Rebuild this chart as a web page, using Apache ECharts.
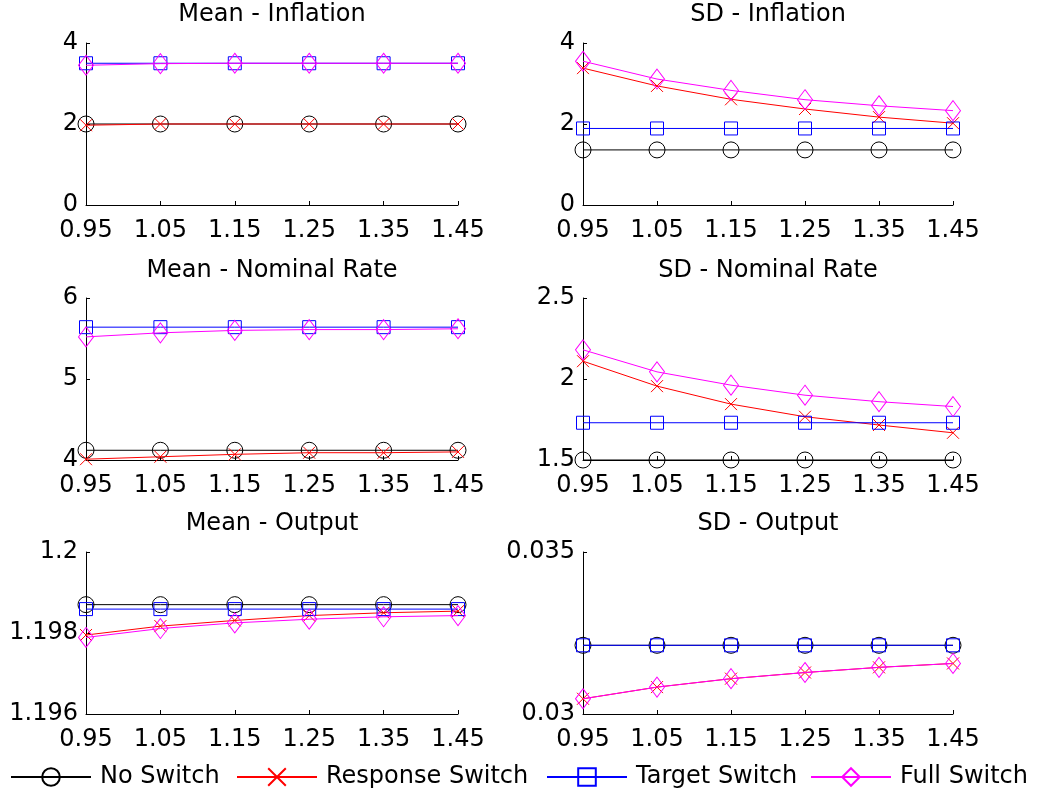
<!DOCTYPE html>
<html>
<head>
<meta charset="utf-8">
<script src="https://cdn.jsdelivr.net/npm/echarts@6/dist/echarts.min.js"></script>
<style>
  html, body { margin: 0; padding: 0; background: #fff; }
  #chart { width: 1046px; height: 797px; }
</style>
</head>
<body>
<div id="chart"></div>
<script>
// x categories (policy response parameter)
const xLabels = ['0.95', '1.05', '1.15', '1.25', '1.35', '1.45']
const seriesNames = ['No Switch', 'Response Switch', 'Target Switch', 'Full Switch']

// Mean - Inflation
const meanInflNo = [2, 2, 2, 2, 2, 2]
const meanInflResp = [1.97, 2, 2, 2, 2, 2]
const meanInflTarget = [3.5, 3.5, 3.5, 3.5, 3.5, 3.5]
const meanInflFull = [3.45, 3.49, 3.5, 3.5, 3.5, 3.5]

// SD - Inflation
const sdInflNo = [1.36, 1.36, 1.36, 1.36, 1.36, 1.36]
const sdInflResp = [3.38, 2.94, 2.61, 2.37, 2.17, 2.02]
const sdInflTarget = [1.89, 1.89, 1.89, 1.89, 1.89, 1.89]
const sdInflFull = [3.55, 3.11, 2.83, 2.6, 2.45, 2.33]

// Mean - Nominal Rate
const meanRateNo = [4.12, 4.12, 4.12, 4.12, 4.12, 4.12]
const meanRateResp = [4.01, 4.04, 4.07, 4.09, 4.09, 4.1]
const meanRateTarget = [5.64, 5.64, 5.64, 5.64, 5.64, 5.64]
const meanRateFull = [5.52, 5.57, 5.6, 5.61, 5.61, 5.62]

// SD - Nominal Rate
const sdRateNo = [1.5, 1.5, 1.5, 1.5, 1.5, 1.5]
const sdRateResp = [2.11, 1.956, 1.845, 1.767, 1.716, 1.668]
const sdRateTarget = [1.73, 1.73, 1.73, 1.73, 1.73, 1.73]
const sdRateFull = [2.18, 2.044, 1.962, 1.9, 1.86, 1.83]

// Mean - Output
const meanOutNo = [1.1987, 1.1987, 1.1987, 1.1987, 1.1987, 1.1987]
const meanOutResp = [1.19795, 1.19817, 1.19831, 1.19843, 1.1985, 1.19854]
const meanOutTarget = [1.19859, 1.19859, 1.19859, 1.19859, 1.19859, 1.19859]
const meanOutFull = [1.19789, 1.19811, 1.19825, 1.19834, 1.1984, 1.19843]

// SD - Output
const sdOutNo = [0.03212, 0.03212, 0.03212, 0.03212, 0.03212, 0.03212]
const sdOutResp = [0.03047, 0.03083, 0.03109, 0.03128, 0.03144, 0.03156]
const sdOutTarget = [0.03212, 0.03212, 0.03212, 0.03212, 0.03212, 0.03212]
const sdOutFull = [0.03047, 0.03083, 0.03109, 0.03128, 0.03144, 0.03156]

const panels = [
  { title: 'Mean - Inflation', min: 0, max: 4, interval: 2, data: [meanInflNo, meanInflResp, meanInflTarget, meanInflFull] },
  { title: 'SD - Inflation', min: 0, max: 4, interval: 2, data: [sdInflNo, sdInflResp, sdInflTarget, sdInflFull] },
  { title: 'Mean - Nominal Rate', min: 4, max: 6, interval: 1, data: [meanRateNo, meanRateResp, meanRateTarget, meanRateFull] },
  { title: 'SD - Nominal Rate', min: 1.5, max: 2.5, interval: 0.5, data: [sdRateNo, sdRateResp, sdRateTarget, sdRateFull] },
  { title: 'Mean - Output', min: 1.196, max: 1.2, interval: 0.002, data: [meanOutNo, meanOutResp, meanOutTarget, meanOutFull] },
  { title: 'SD - Output', min: 0.03, max: 0.035, interval: 0.005, data: [sdOutNo, sdOutResp, sdOutTarget, sdOutFull] },
]

const FONT = 'DejaVu Sans'
const colors = ['#000000', '#ff0000', '#0000ff', '#ff00ff']
const symbols = ['circle', 'path://M0,0L10,10M10,0L0,10', 'rect', 'diamond']
const symbolSizes = [16, 12, 13, [15, 20]]

// grid boxes in px
const colLeft = [86, 583]
const colWidth = [372, 370]
const rowTop = [43, 298, 552]
const rowHeight = 162
const titleTop = [3, 259, 512]

const chart = echarts.init(document.getElementById('chart'))

const grid = []
const xAxis = []
const yAxis = []
const title = []
const series = []

panels.forEach((p, i) => {
  const col = i % 2
  const row = Math.floor(i / 2)
  grid.push({ left: colLeft[col], top: rowTop[row], width: colWidth[col], height: rowHeight })
  title.push({
    text: p.title,
    left: colLeft[col] + colWidth[col] / 2,
    top: titleTop[row],
    textAlign: 'center',
    padding: 0,
    textStyle: { fontFamily: FONT, fontSize: 24, fontWeight: 'normal', color: '#000' },
  })
  xAxis.push({
    type: 'category',
    gridIndex: i,
    data: xLabels,
    boundaryGap: false,
    axisLine: { lineStyle: { color: '#000', width: 1 } },
    axisTick: { inside: true, length: 4, alignWithLabel: true, lineStyle: { color: '#000' } },
    axisLabel: { fontFamily: FONT, fontSize: 24, color: '#000', margin: 14 },
    splitLine: { show: false },
  })
  yAxis.push({
    type: 'value',
    gridIndex: i,
    min: p.min,
    max: p.max,
    interval: p.interval,
    axisLine: { show: true, lineStyle: { color: '#000', width: 1 } },
    axisTick: { show: true, inside: true, length: 4, lineStyle: { color: '#000' } },
    axisLabel: {
      fontFamily: FONT, fontSize: 24, color: '#000', margin: 8,
      formatter: (v) => String(+v.toFixed(4)),
    },
    splitLine: { show: false },
  })
  p.data.forEach((vals, k) => {
    series.push({
      name: seriesNames[k],
      type: 'line',
      xAxisIndex: i,
      yAxisIndex: i,
      data: vals,
      clip: false,
      symbol: symbols[k],
      symbolSize: symbolSizes[k],
      showAllSymbol: true,
      lineStyle: { color: colors[k], width: 1 },
      itemStyle: { color: 'transparent', borderColor: colors[k], borderWidth: 1 },
      emphasis: { disabled: true },
      animation: false,
      z: 2 + k,
    })
  })
})

const legendLeft = [10, 236, 546, 810]
const legend = seriesNames.map((name, k) => ({
  data: [name],
  left: legendLeft[k],
  top: 765,
  padding: 0,
  itemWidth: 80,
  itemHeight: 22,
  itemGap: 0,
  selectedMode: false,
  textStyle: { fontFamily: FONT, fontSize: 24, color: '#000', padding: [0, 0, 0, 4] },
}))

chart.setOption({
  backgroundColor: '#fff',
  animation: false,
  title,
  grid,
  xAxis,
  yAxis,
  series,
  legend,
})
</script>
</body>
</html>
